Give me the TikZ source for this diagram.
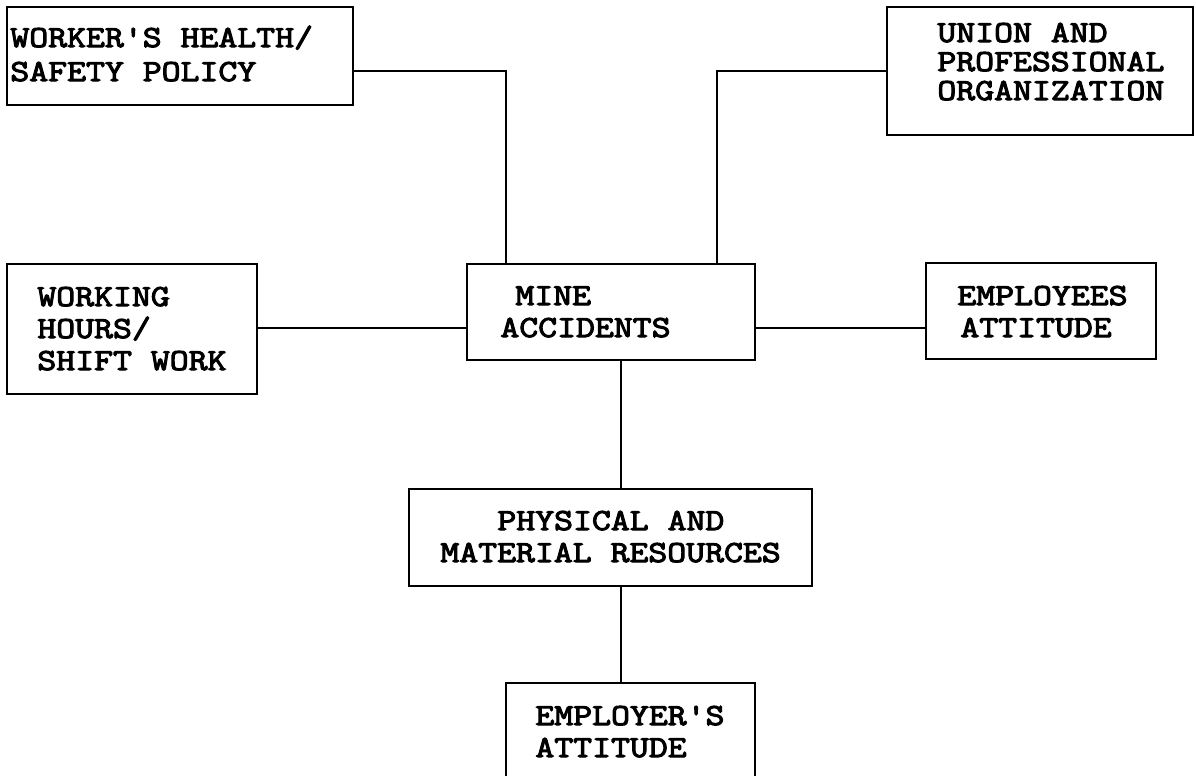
\documentclass[tikz,border=0pt]{standalone}
\usepackage{fontspec}
\setmonofont{Latin Modern Mono}[FakeStretch=1.2,FakeBold=3.5]
\begin{document}
\begin{tikzpicture}[x=0.5pt,y=-0.5pt,
  box/.style={draw, line width=1.4pt, rectangle, inner sep=0pt, outer sep=0pt},
  lbl/.style={anchor=base west, inner sep=0pt,
    font=\ttfamily\fontsize{15.3}{15.3}\selectfont},
  conn/.style={line width=1.3pt}]
\useasboundingbox (0,0) rectangle (1196,776);
\clip (0,0) rectangle (1196,776);
% boxes
\node[box, minimum width=173pt, minimum height=49pt] (worker) at (180,56) {};
\node[box, minimum width=153pt, minimum height=64pt] (union) at (1040,71) {};
\node[box, minimum width=125pt, minimum height=65pt] (hours) at (132,329) {};
\node[box, minimum width=144pt, minimum height=48pt] (mine) at (611,312) {};
\node[box, minimum width=115pt, minimum height=48pt] (employees) at (1041,311) {};
\node[box, minimum width=201.5pt, minimum height=48.5pt] (physical) at (610.5,537.5) {};
\node[box, minimum width=124.5pt, minimum height=58.5pt] (employer) at (630.5,741.5) {};
% texts
\node[lbl] (t1a) at (10,47) {WORKER'S HEALTH/};
\node[lbl] (t1b) at (10,81) {SAFETY POLICY};
\node[lbl] (t2a) at (937,42) {UNION AND};
\node[lbl] (t2b) at (937,71) {PROFESSIONAL};
\node[lbl] (t2c) at (937,100) {ORGANIZATION};
\node[lbl] (t3a) at (37,306) {WORKING};
\node[lbl] (t3b) at (37,338) {HOURS/};
\node[lbl] (t3c) at (37,370) {SHIFT WORK};
\node[lbl] (t4a) at (515,305) {MINE};
\node[lbl] (t4b) at (500,337) {ACCIDENTS};
\node[lbl] (t5a) at (957,305) {EMPLOYEES};
\node[lbl] (t5b) at (960,337) {ATTITUDE};
\node[lbl] (t6a) at (497,530) {PHYSICAL AND};
\node[lbl] (t6b) at (440,562) {MATERIAL RESOURCES};
\node[lbl] (t7a) at (535,725) {EMPLOYER'S};
\node[lbl] (t7b) at (535,757) {ATTITUDE};
% junction points
\coordinate (j1) at (506,71);
\coordinate (j2) at (717,71);
\coordinate (j3) at (0,328);
\coordinate (j4) at (621,0);
% connectors
\draw[conn] (worker.east |- j1) -| (mine.north -| j1);
\draw[conn] (union.west |- j2) -| (mine.north -| j2);
\draw[conn] (hours.east |- j3) -- (mine.west |- j3);
\draw[conn] (mine.east |- j3) -- (employees.west |- j3);
\draw[conn] (mine.south -| j4) -- (physical.north -| j4);
\draw[conn] (physical.south -| j4) -- (employer.north -| j4);
\end{tikzpicture}
\end{document}
